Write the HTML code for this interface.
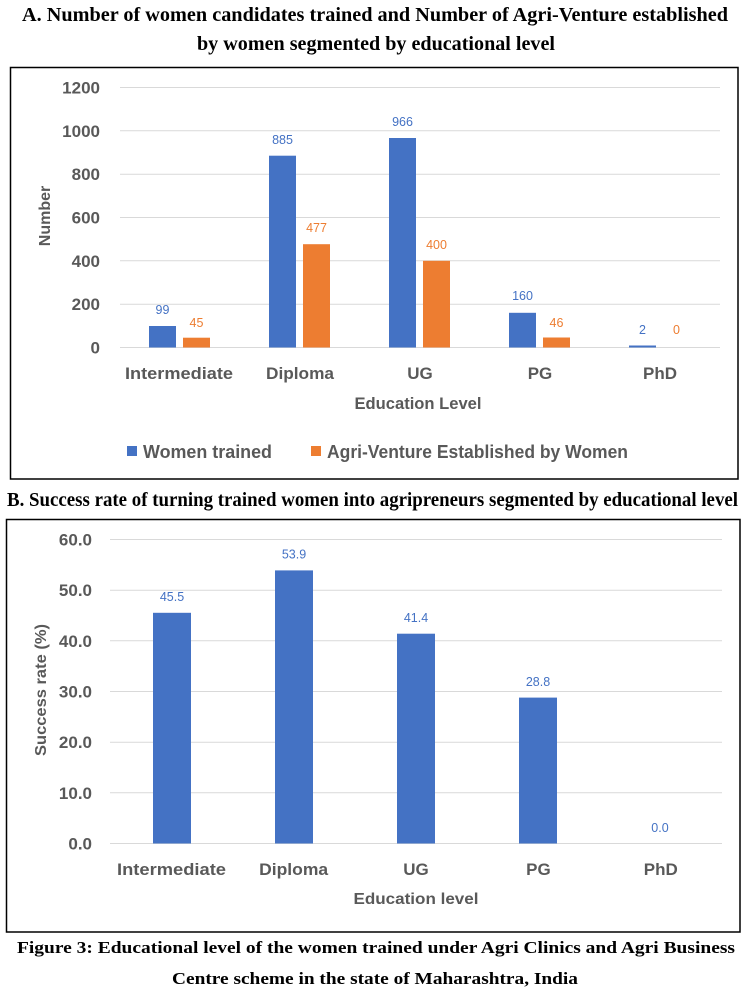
<!DOCTYPE html>
<html><head><meta charset="utf-8"><style>
html,body{margin:0;padding:0;background:#fff;}
svg{display:block;}
.ser{font-family:"Liberation Serif",serif;font-weight:bold;fill:#000;}
.ax{font-family:"Liberation Sans",sans-serif;font-weight:bold;fill:#595959;}
.dl{font-family:"Liberation Sans",sans-serif;font-size:12.5px;}
</style></head><body>
<svg width="748" height="1000" viewBox="0 0 748 1000" xmlns="http://www.w3.org/2000/svg">
<rect width="748" height="1000" fill="#fff"/>
<!-- Title A -->
<text class="ser" x="22" y="21" font-size="19.5" textLength="706" lengthAdjust="spacingAndGlyphs">A.  Number of women candidates trained and Number of Agri-Venture established</text>
<text class="ser" x="197" y="50" font-size="19.5" textLength="358" lengthAdjust="spacingAndGlyphs">by women segmented by educational level</text>

<!-- Box A -->
<rect x="10.5" y="67.5" width="727.5" height="411.5" fill="none" stroke="#000" stroke-width="1.5"/>
<g stroke="#d9d9d9" stroke-width="1">
<line x1="120" y1="87.5" x2="720" y2="87.5"/>
<line x1="120" y1="130.8" x2="720" y2="130.8"/>
<line x1="120" y1="174.2" x2="720" y2="174.2"/>
<line x1="120" y1="217.5" x2="720" y2="217.5"/>
<line x1="120" y1="260.8" x2="720" y2="260.8"/>
<line x1="120" y1="304.2" x2="720" y2="304.2"/>
<line x1="120" y1="347.5" x2="720" y2="347.5"/>
</g>
<g class="ax" font-size="17" text-anchor="end">
<text x="100" y="93.5">1200</text>
<text x="100" y="136.8">1000</text>
<text x="100" y="180.2">800</text>
<text x="100" y="223.5">600</text>
<text x="100" y="266.8">400</text>
<text x="100" y="310.2">200</text>
<text x="100" y="353.5">0</text>
</g>
<text class="ax" font-size="16" transform="translate(50,216) rotate(-90)" text-anchor="middle">Number</text>
<!-- bars A -->
<g fill="#4472c4">
<rect x="149" y="326" width="27" height="21.5"/>
<rect x="269" y="155.7" width="27" height="191.8"/>
<rect x="389" y="138" width="27" height="209.5"/>
<rect x="509" y="312.8" width="27" height="34.7"/>
<rect x="629" y="345.5" width="27" height="2"/>
</g>
<g fill="#ed7d31">
<rect x="183" y="337.7" width="27" height="9.8"/>
<rect x="303" y="244.2" width="27" height="103.3"/>
<rect x="423" y="260.8" width="27" height="86.7"/>
<rect x="543" y="337.5" width="27" height="10"/>
</g>
<g class="dl" fill="#4472c4" text-anchor="middle">
<text x="162.5" y="314">99</text>
<text x="282.5" y="144">885</text>
<text x="402.5" y="126">966</text>
<text x="522.5" y="300">160</text>
<text x="642.5" y="334">2</text>
</g>
<g class="dl" fill="#ed7d31" text-anchor="middle">
<text x="196.5" y="327">45</text>
<text x="316.5" y="232">477</text>
<text x="436.5" y="249">400</text>
<text x="556.5" y="327">46</text>
<text x="676.5" y="334">0</text>
</g>
<g class="ax" font-size="17" text-anchor="middle">
<text x="179" y="379" textLength="108" lengthAdjust="spacingAndGlyphs">Intermediate</text>
<text x="300" y="379" textLength="68" lengthAdjust="spacingAndGlyphs">Diploma</text>
<text x="420" y="379">UG</text>
<text x="540" y="379">PG</text>
<text x="660" y="379">PhD</text>
<text x="418" y="409" textLength="127" lengthAdjust="spacingAndGlyphs">Education Level</text>
</g>
<!-- legend -->
<rect x="127" y="446" width="10" height="10" fill="#4472c4"/>
<text class="ax" x="143" y="458" font-size="18" textLength="129" lengthAdjust="spacingAndGlyphs">Women trained</text>
<rect x="311" y="446" width="10" height="10" fill="#ed7d31"/>
<text class="ax" x="327" y="458" font-size="18" textLength="301" lengthAdjust="spacingAndGlyphs">Agri-Venture Established by Women</text>

<!-- Title B -->
<text class="ser" x="7" y="506" font-size="19.5" textLength="731" lengthAdjust="spacingAndGlyphs">B. Success rate of turning trained women into agripreneurs segmented by educational level</text>

<!-- Box B -->
<rect x="6.5" y="519.5" width="733.5" height="412.5" fill="none" stroke="#000" stroke-width="1.5"/>
<g stroke="#d9d9d9" stroke-width="1">
<line x1="110" y1="539.5" x2="722" y2="539.5"/>
<line x1="110" y1="590.2" x2="722" y2="590.2"/>
<line x1="110" y1="640.8" x2="722" y2="640.8"/>
<line x1="110" y1="691.5" x2="722" y2="691.5"/>
<line x1="110" y1="742.2" x2="722" y2="742.2"/>
<line x1="110" y1="792.8" x2="722" y2="792.8"/>
<line x1="110" y1="843.5" x2="722" y2="843.5"/>
</g>
<g class="ax" font-size="17" text-anchor="end">
<text x="92" y="545.5">60.0</text>
<text x="92" y="596.2">50.0</text>
<text x="92" y="646.8">40.0</text>
<text x="92" y="697.5">30.0</text>
<text x="92" y="748.2">20.0</text>
<text x="92" y="798.8">10.0</text>
<text x="92" y="849.5">0.0</text>
</g>
<text class="ax" font-size="16" transform="translate(46,690) rotate(-90)" text-anchor="middle" textLength="132" lengthAdjust="spacingAndGlyphs">Success rate (%)</text>
<g fill="#4472c4">
<rect x="153" y="612.8" width="38" height="230.7"/>
<rect x="275" y="570.4" width="38" height="273.1"/>
<rect x="397" y="633.7" width="38" height="209.8"/>
<rect x="519" y="697.6" width="38" height="145.9"/>
</g>
<g class="dl" fill="#4472c4" text-anchor="middle">
<text x="172" y="601">45.5</text>
<text x="294" y="558.5">53.9</text>
<text x="416" y="622">41.4</text>
<text x="538" y="686">28.8</text>
<text x="660" y="832">0.0</text>
</g>
<g class="ax" font-size="17" text-anchor="middle">
<text x="171.5" y="875" textLength="109" lengthAdjust="spacingAndGlyphs">Intermediate</text>
<text x="293.6" y="875" textLength="69" lengthAdjust="spacingAndGlyphs">Diploma</text>
<text x="416" y="875">UG</text>
<text x="538.4" y="875">PG</text>
<text x="660.8" y="875">PhD</text>
<text x="416" y="904" font-size="16" textLength="125" lengthAdjust="spacingAndGlyphs">Education level</text>
</g>

<!-- Caption -->
<text class="ser" x="17" y="953" font-size="17" textLength="718" lengthAdjust="spacingAndGlyphs">Figure 3: Educational level of the women trained under Agri Clinics and Agri Business</text>
<text class="ser" x="172" y="984" font-size="17" textLength="406" lengthAdjust="spacingAndGlyphs">Centre scheme in the state of Maharashtra, India</text>
</svg>
</body></html>
